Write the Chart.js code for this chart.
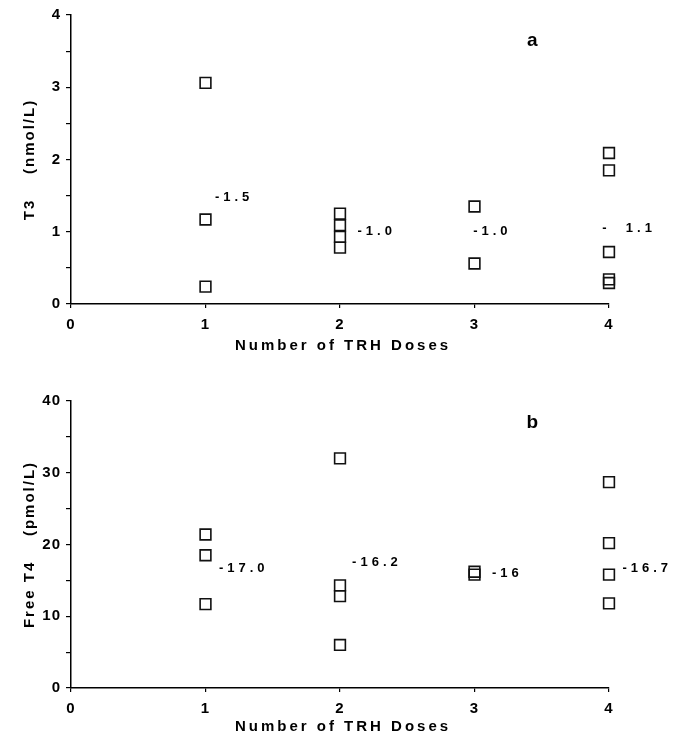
<!DOCTYPE html>
<html><head><meta charset="utf-8">
<script src="https://cdn.jsdelivr.net/npm/chart.js@4"></script>
<style>
html,body{margin:0;padding:0;background:#fff;}
#wrap{position:relative;width:675px;height:742px;background:#fff;}
.c{position:absolute;left:0;width:675px;height:371px;}
</style></head><body>
<div id="wrap">
<div class="c" style="top:0"><canvas id="ca"></canvas></div>
<div class="c" style="top:371px"><canvas id="cb"></canvas></div>
</div>
<script>
// ---- data ----
const xTitle = 'Number of TRH Doses';

const t3Doses = [1, 1, 1, 2, 2, 2, 2, 3, 3, 4, 4, 4, 4, 4];
const t3Values = [3.06, 1.17, 0.24, 1.25, 1.09, 0.93, 0.78, 1.35, 0.56, 2.09, 1.85, 0.72, 0.34, 0.29];
const t3LabelText = ['-1.5', '-1.0', '-1.0', '-  1.1'];
const t3LabelDose = [1.07, 2.13, 2.99, 3.95];
const t3LabelValue = [1.48, 1.0, 1.0, 1.05];

const ft4Doses = [1, 1, 1, 2, 2, 2, 2, 3, 3, 4, 4, 4, 4];
const ft4Values = [21.4, 18.5, 11.7, 32.0, 14.3, 12.8, 6.0, 16.2, 15.8, 28.7, 20.2, 15.8, 11.8];
const ft4LabelText = ['-17.0', '-16.2', '-16', '-16.7'];
const ft4LabelDose = [1.10, 2.09, 3.13, 4.10];
const ft4LabelValue = [16.7, 17.5, 16.0, 16.6];

const FONT = '"Liberation Sans", Arial, Helvetica, sans-serif';

function makeChart(id, cfg) {
  const pts = cfg.doses.map((d, i) => ({x: d, y: cfg.values[i]}));
  const labelPlugin = {
    id: 'labels' + id,
    beforeDraw(chart) { chart.ctx.letterSpacing = '1px'; },
    afterDatasetsDraw(chart) {
      const ctx = chart.ctx, xs = chart.scales.x, ys = chart.scales.y;
      ctx.save();
      ctx.fillStyle = '#000';
      ctx.font = 'bold 13px ' + FONT;
      ctx.letterSpacing = '4px';
      ctx.textAlign = 'left';
      ctx.textBaseline = 'middle';
      cfg.labelText.forEach((t, i) => {
        ctx.fillText(t, xs.getPixelForValue(cfg.labelDose[i]), ys.getPixelForValue(cfg.labelValue[i]));
      });
      // panel letter
      ctx.font = 'bold 19px ' + FONT;
      ctx.letterSpacing = '0px';
      ctx.textAlign = 'center';
      ctx.fillText(cfg.panel, xs.getPixelForValue(3.43), ys.getPixelForValue(cfg.panelY));
      // axis titles
      ctx.font = 'bold 15px ' + FONT;
      ctx.letterSpacing = '3px';
      ctx.textBaseline = 'middle';
      ctx.fillText(xTitle, (chart.chartArea.left + chart.chartArea.right) / 2 + 3, cfg.xTitleY);
      ctx.translate(cfg.yTitleX, (chart.chartArea.top + chart.chartArea.bottom) / 2);
      ctx.rotate(-Math.PI / 2);
      ctx.letterSpacing = '2px';
      ctx.fillText(cfg.yTitle, 0, 0);
      ctx.restore();
    }
  };
  return new Chart(document.getElementById(id), {
    type: 'scatter',
    data: {datasets: [{
      data: pts,
      clip: false,
      pointStyle: 'rect',
      pointRadius: 7.6,
      pointBorderWidth: 1.6,
      borderColor: '#000',
      backgroundColor: 'rgba(0,0,0,0)',
      pointBackgroundColor: 'rgba(0,0,0,0)',
      pointBorderColor: '#111'
    }]},
    options: {
      responsive: true, maintainAspectRatio: false, animation: false,
      devicePixelRatio: 1,
      layout: {padding: {top: cfg.padTop, right: 66, left: 0, bottom: 0}},
      plugins: {legend: {display: false}, tooltip: {enabled: false}},
      scales: {
        x: {
          type: 'linear', min: 0, max: 4,
          afterFit(s) { s.height = cfg.xHeight; },
          ticks: {stepSize: 1, color: '#000', padding: 8, font: {family: FONT, size: 15, weight: 'bold'}},
          grid: {drawOnChartArea: false, drawTicks: true, tickLength: 4, color: '#000', lineWidth: 1.2},
          border: {display: true, color: '#000', width: 1.5},
          title: {display: false}
        },
        y: {
          type: 'linear', min: 0, max: cfg.yMax,
          afterFit(s) { s.width = 71; },
          ticks: {stepSize: cfg.minorStep, color: '#000', padding: 5,
            font: {family: FONT, size: 15, weight: 'bold'},
            callback: v => (Math.abs(v % cfg.majorStep) < 1e-9 ? String(v) : '')},
          grid: {drawOnChartArea: false, drawTicks: true, tickLength: 5, color: '#000', lineWidth: 1.2},
          border: {display: true, color: '#000', width: 1.5},
          title: {display: false}
        }
      }
    },
    plugins: [labelPlugin]
  });
}

makeChart('ca', {
  doses: t3Doses, values: t3Values,
  labelText: t3LabelText, labelDose: t3LabelDose, labelValue: t3LabelValue,
  panel: 'a', panelY: 3.64, yMax: 4, minorStep: 0.5, majorStep: 1,
  padTop: 15, xHeight: 67, xTitleY: 346, yTitleX: 30, yTitle: 'T3    (nmol/L)'
});
makeChart('cb', {
  doses: ft4Doses, values: ft4Values,
  labelText: ft4LabelText, labelDose: ft4LabelDose, labelValue: ft4LabelValue,
  panel: 'b', panelY: 37.0, yMax: 40, minorStep: 5, majorStep: 10,
  padTop: 30, xHeight: 54, xTitleY: 356, yTitleX: 30, yTitle: 'Free T4    (pmol/L)'
});
</script>
</body></html>
